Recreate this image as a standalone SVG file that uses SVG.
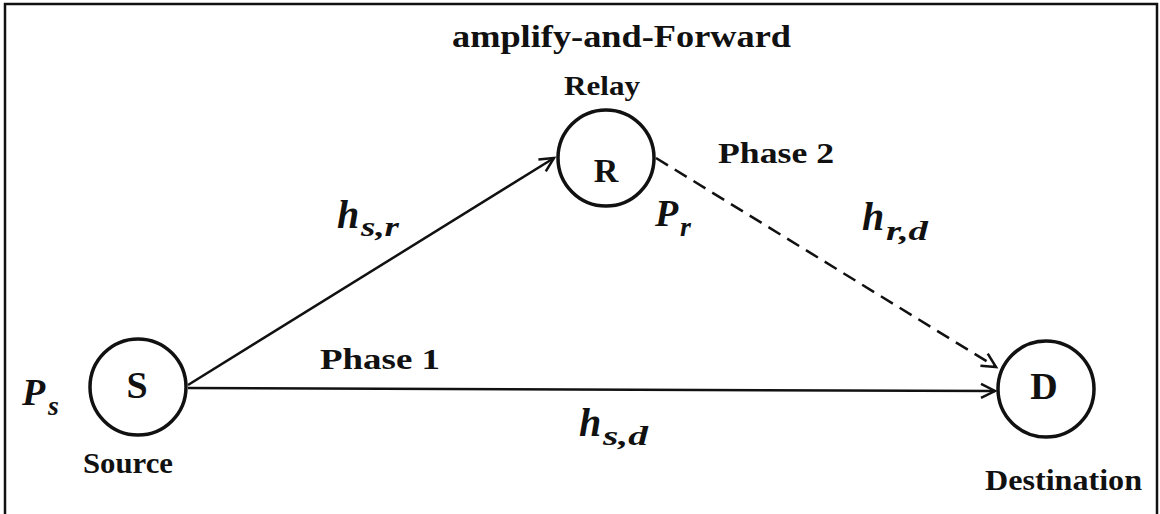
<svg xmlns="http://www.w3.org/2000/svg" width="1160" height="514" viewBox="0 0 1160 514">
<style>
.lbl{font-family:"Liberation Serif","Times New Roman",serif;font-weight:bold;fill:#111}
.math{font-family:"Liberation Serif","Times New Roman",serif;font-weight:bold;font-style:italic;fill:#111}
.node{fill:#fff;stroke:#111;stroke-width:3.5}
.edge{fill:none;stroke:#111;stroke-width:2.5}
</style>
<defs>
<marker id="arr" markerUnits="userSpaceOnUse" markerWidth="20" markerHeight="20" refX="15" refY="8" orient="auto" viewBox="0 0 20 16">
<path d="M1,1 L15,8 L1,15" fill="none" stroke="#111" stroke-width="2.5"/>
</marker>
</defs>
<rect x="0" y="0" width="1160" height="514" fill="#fff"/>
<rect x="5" y="4" width="1152" height="514" fill="none" stroke="#111" stroke-width="2.5"/>
<text class="lbl" x="452" y="47" font-size="32" textLength="339" lengthAdjust="spacingAndGlyphs">amplify-and-Forward</text>
<g id="connectors">
<line class="edge" x1="188" y1="385" x2="554" y2="158" marker-end="url(#arr)"/>
<line class="edge" x1="188" y1="388" x2="995" y2="391" marker-end="url(#arr)"/>
<line class="edge" x1="656" y1="158" x2="996" y2="367" stroke-dasharray="14 8" marker-end="url(#arr)"/>
</g>
<g id="node-S">
<circle class="node" cx="138" cy="387" r="48"/>
<text class="lbl" x="137" y="398" font-size="38" text-anchor="middle">S</text>
<text class="lbl" x="83" y="473" font-size="29" textLength="90" lengthAdjust="spacingAndGlyphs">Source</text>
</g>
<g id="node-R">
<circle class="node" cx="606" cy="158" r="48"/>
<text class="lbl" x="606" y="182" font-size="34" text-anchor="middle">R</text>
<text class="lbl" x="564" y="95" font-size="28" textLength="76" lengthAdjust="spacingAndGlyphs">Relay</text>
</g>
<g id="node-D">
<circle class="node" cx="1046" cy="389" r="48"/>
<text class="lbl" x="1044" y="399" font-size="38" text-anchor="middle">D</text>
<text class="lbl" x="985" y="490" font-size="30" textLength="157" lengthAdjust="spacingAndGlyphs">Destination</text>
</g>
<g id="labels">
<text class="lbl" x="320" y="369" font-size="29" textLength="120" lengthAdjust="spacingAndGlyphs">Phase 1</text>
<text class="lbl" x="718" y="163" font-size="29" textLength="116" lengthAdjust="spacingAndGlyphs">Phase 2</text>
<text class="math" x="22" y="405" font-size="38">P</text>
<text class="math" x="48" y="415" font-size="28">s</text>
<text class="math" x="655" y="226" font-size="38">P</text>
<text class="math" x="680" y="236" font-size="28">r</text>
<text class="math" x="337" y="228" font-size="40">h</text>
<text class="math" x="361" y="236" font-size="28" textLength="38" lengthAdjust="spacingAndGlyphs">s,r</text>
<text class="math" x="862" y="230" font-size="40">h</text>
<text class="math" x="886" y="240" font-size="28" textLength="42" lengthAdjust="spacingAndGlyphs">r,d</text>
<text class="math" x="579" y="436" font-size="40">h</text>
<text class="math" x="603" y="445" font-size="28" textLength="45" lengthAdjust="spacingAndGlyphs">s,d</text>
</g>
</svg>
